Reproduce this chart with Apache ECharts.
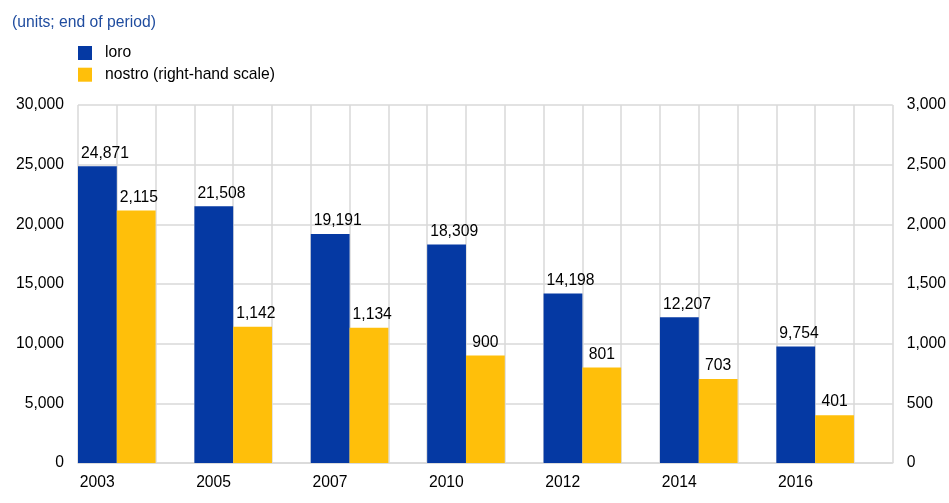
<!DOCTYPE html>
<html>
<head>
<meta charset="utf-8">
<script src="https://cdn.jsdelivr.net/npm/echarts@6/dist/echarts.min.js"></script>
<style>
  html, body { margin: 0; padding: 0; background: #fff; }
  #chart { width: 949px; height: 503px; }
</style>
</head>
<body>
<div id="chart"></div>
<script>
// Year-end counts of correspondent accounts
const years = ['2003', '2005', '2007', '2010', '2012', '2014', '2016'];
const loro = [24871, 21508, 19191, 18309, 14198, 12207, 9754];
const nostro = [2115, 1142, 1134, 900, 801, 703, 401];
const leftTicks = [0, 5000, 10000, 15000, 20000, 25000, 30000];
const rightTicks = [0, 500, 1000, 1500, 2000, 2500, 3000];

const FONT = '"Liberation Sans", Arial, sans-serif';
const FS = 15.7;
const BLUE = '#0539a3';
const YELLOW = '#ffbf0a';
const GRID = '#d9d9d9';

const fmt = v => String(v).replace(/\B(?=(\d{3})+(?!\d))/g, ',');

// Wide labels start just inside the bar's left edge; narrow ones are centred.
function labelled(values) {
  return values.map(v => {
    const text = fmt(v);
    const label = text.length >= 5
      ? { position: [3, -5], align: 'left', verticalAlign: 'bottom' }
      : { position: 'top', distance: 5 };
    return { value: v, label };
  });
}

const baseLabel = {
  show: true,
  color: '#000',
  fontFamily: FONT,
  fontSize: FS,
  formatter: p => fmt(p.value)
};

const chart = echarts.init(document.getElementById('chart'));
chart.setOption({
  animation: false,
  backgroundColor: '#fff',
  title: {
    text: '(units; end of period)',
    left: 7,
    top: 10,
    textStyle: { color: '#1f4c9f', fontFamily: FONT, fontSize: FS, fontWeight: 'normal' }
  },
  legend: {
    data: ['loro', 'nostro (right-hand scale)'],
    orient: 'vertical',
    left: 78,
    top: 45,
    padding: 0,
    itemWidth: 14,
    itemHeight: 14,
    itemGap: 5.7,
    icon: 'rect',
    textStyle: { color: '#000', fontFamily: FONT, fontSize: FS, lineHeight: 16, padding: [0, 0, 0, 8] }
  },
  grid: { left: 78, right: 56, top: 105, bottom: 40 },
  xAxis: [
    {
      type: 'category',
      data: years,
      boundaryGap: true,
      axisLine: { show: true, lineStyle: { color: GRID, width: 1.5 } },
      axisTick: { show: false },
      splitLine: { show: false },
      axisLabel: {
        color: '#000', fontFamily: FONT, fontSize: FS, margin: 12,
        padding: [0, 78, 0, 0]
      }
    },
    {
      // fine vertical rules: three per year band
      type: 'value',
      min: 0,
      max: 21,
      interval: 1,
      position: 'bottom',
      axisLine: { show: false },
      axisTick: { show: false },
      axisLabel: { show: false },
      splitLine: { show: true, lineStyle: { color: GRID, width: 1.5 } }
    }
  ],
  yAxis: [
    {
      type: 'value',
      min: leftTicks[0],
      max: leftTicks[leftTicks.length - 1],
      interval: leftTicks[1] - leftTicks[0],
      axisLine: { show: false },
      axisTick: { show: false },
      splitLine: { show: true, lineStyle: { color: GRID, width: 1.5 } },
      axisLabel: { color: '#000', fontFamily: FONT, fontSize: FS, margin: 14, formatter: v => fmt(v) }
    },
    {
      type: 'value',
      min: rightTicks[0],
      max: rightTicks[rightTicks.length - 1],
      interval: rightTicks[1] - rightTicks[0],
      position: 'right',
      axisLine: { show: false },
      axisTick: { show: false },
      splitLine: { show: false },
      axisLabel: { color: '#000', fontFamily: FONT, fontSize: FS, margin: 14, formatter: v => fmt(v) }
    }
  ],
  series: [
    {
      name: 'loro',
      type: 'bar',
      xAxisIndex: 0,
      yAxisIndex: 0,
      barGap: '0%',
      barCategoryGap: '0%',
      itemStyle: { color: BLUE },
      label: baseLabel,
      data: labelled(loro)
    },
    {
      name: 'nostro (right-hand scale)',
      type: 'bar',
      xAxisIndex: 0,
      yAxisIndex: 1,
      itemStyle: { color: YELLOW },
      label: baseLabel,
      data: labelled(nostro)
    },
    {
      // empty slot that keeps the gap after each pair of bars
      name: 'spacer',
      type: 'bar',
      xAxisIndex: 0,
      yAxisIndex: 0,
      silent: true,
      data: []
    }
  ]
});
</script>
</body>
</html>
